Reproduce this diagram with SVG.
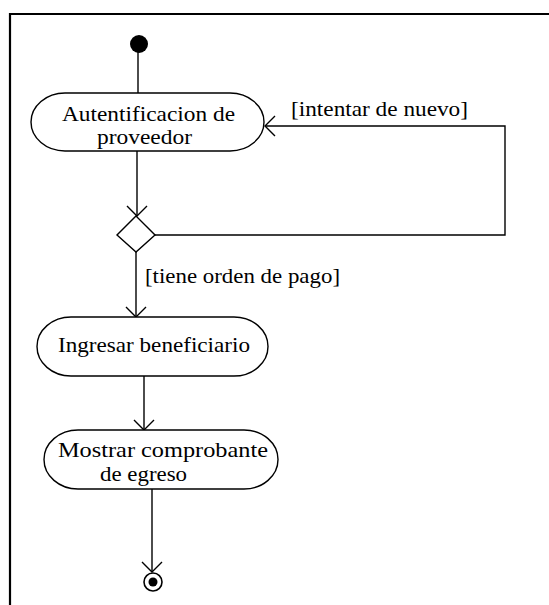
<svg xmlns="http://www.w3.org/2000/svg" width="549" height="605" viewBox="0 0 549 605">
<style>
.act{fill:#fff;stroke:#000;stroke-width:1.4}
.t{font-size:22px;fill:#000}
.c{fill:none;stroke:#000;stroke-width:1.4}
</style>
<defs>
<marker id="open" markerUnits="userSpaceOnUse" markerWidth="24" markerHeight="24" viewBox="-12 -12 24 24" refX="0" refY="0" orient="auto">
<path d="M-10,-10 L0,0 L-10,10" fill="none" stroke="#000" stroke-width="1.4"/>
</marker>
</defs>
<rect width="549" height="605" fill="#fff"/>
<path d="M10,605 V14 H549" fill="none" stroke="#000" stroke-width="2.2"/>
<g font-family="Liberation Serif, serif">
<g id="connectors">
<path class="c" d="M138,52 V93"/>
<path class="c" d="M137,151 V216" marker-end="url(#open)"/>
<path class="c" d="M155,235 H505 V126 H265" marker-end="url(#open)"/>
<path class="c" d="M136,252 V317" marker-end="url(#open)"/>
<path class="c" d="M144,376 V430" marker-end="url(#open)"/>
<path class="c" d="M152,489 V572" marker-end="url(#open)"/>
<text class="t" x="291" y="116" textLength="177" lengthAdjust="spacingAndGlyphs">[intentar de nuevo]</text>
<text class="t" x="145" y="283" textLength="195" lengthAdjust="spacingAndGlyphs">[tiene orden de pago]</text>
</g>
<g id="start">
<circle cx="139" cy="44" r="9" fill="#000"/>
</g>
<g id="autentificacion">
<rect class="act" x="31" y="93" width="233" height="58" rx="34" ry="29"/>
<text class="t" x="62" y="121" textLength="173" lengthAdjust="spacingAndGlyphs">Autentificacion de</text>
<text class="t" x="97" y="144" textLength="95" lengthAdjust="spacingAndGlyphs">proveedor</text>
</g>
<g id="decision">
<polygon points="136,216 155,235 136,252 117,235" fill="#fff" stroke="#000" stroke-width="1.4"/>
</g>
<g id="ingresar">
<rect class="act" x="37" y="317" width="231" height="59" rx="34" ry="29.5"/>
<text class="t" x="58" y="352" textLength="192" lengthAdjust="spacingAndGlyphs">Ingresar beneficiario</text>
</g>
<g id="mostrar">
<rect class="act" x="44" y="430" width="234" height="59" rx="34" ry="29.5"/>
<text class="t" x="58" y="457" textLength="210" lengthAdjust="spacingAndGlyphs">Mostrar comprobante</text>
<text class="t" x="100" y="481" textLength="87" lengthAdjust="spacingAndGlyphs">de egreso</text>
</g>
<g id="end">
<circle cx="153" cy="582" r="9" fill="#fff" stroke="#000" stroke-width="1.6"/>
<circle cx="153" cy="582" r="4.5" fill="#000"/>
</g>
</g>
</svg>
